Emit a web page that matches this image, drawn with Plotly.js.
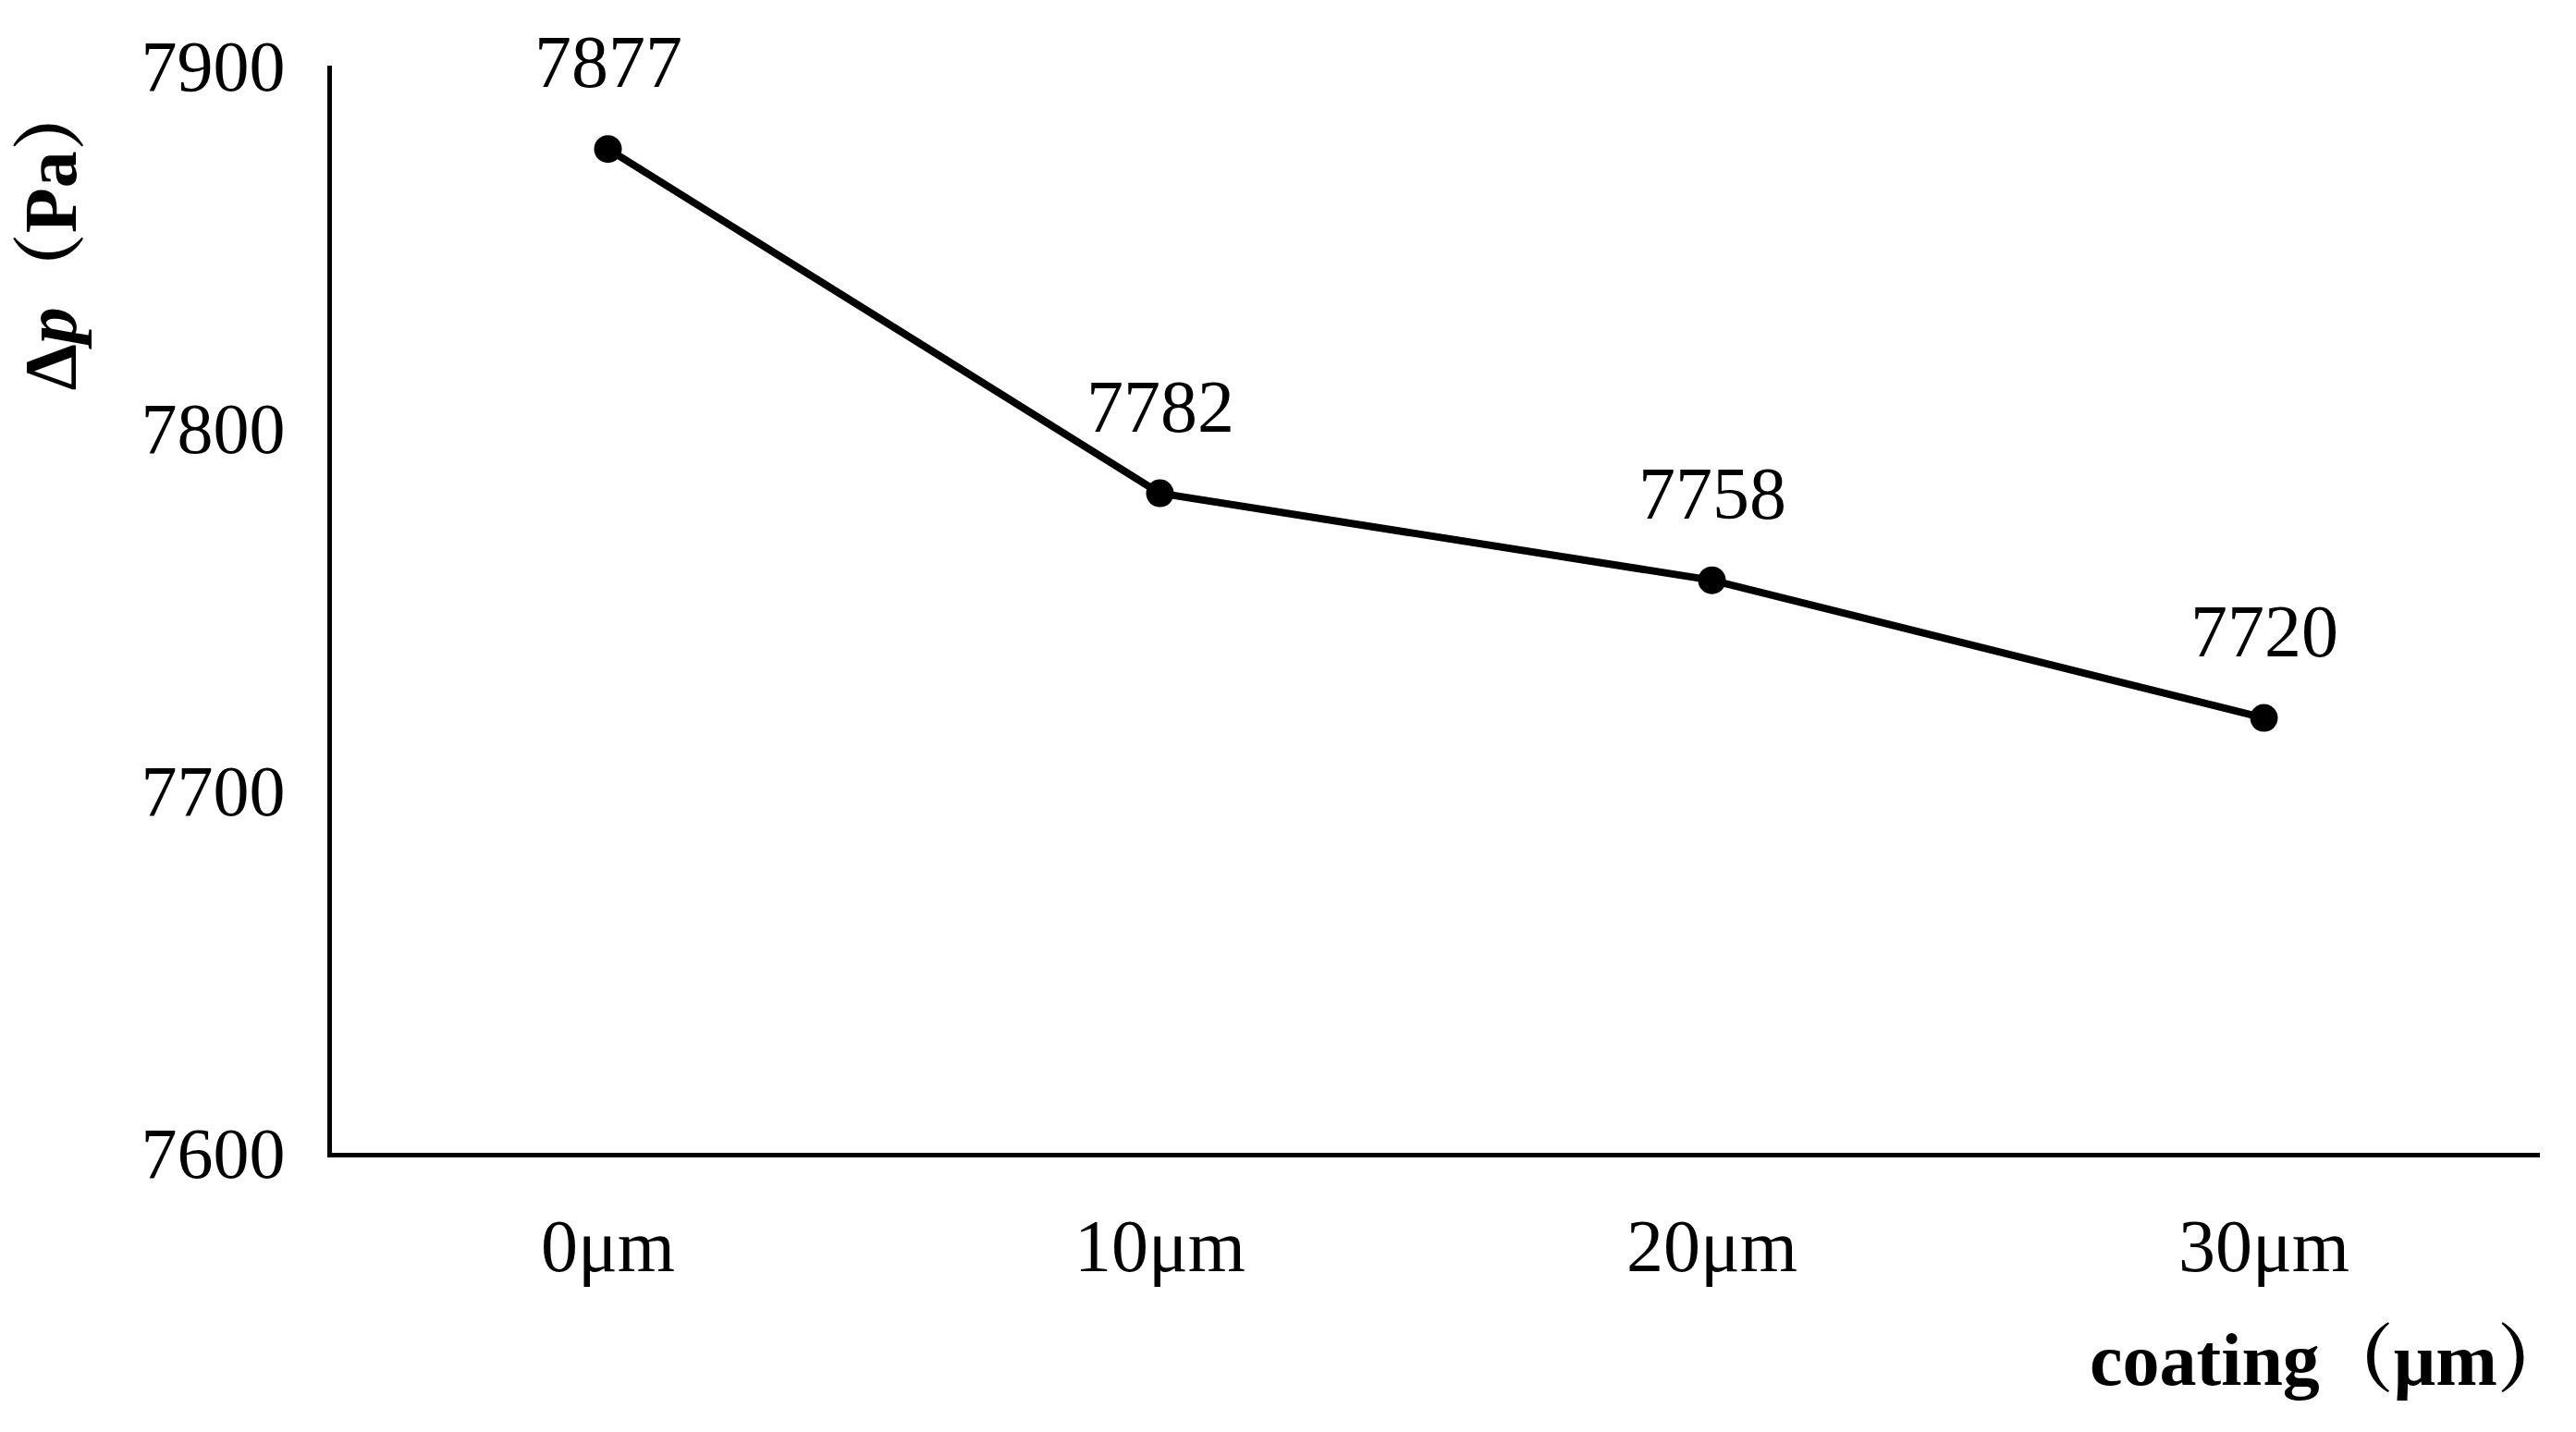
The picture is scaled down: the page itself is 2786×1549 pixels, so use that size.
<!DOCTYPE html>
<html>
<head>
<meta charset="utf-8">
<script src="https://cdn.plot.ly/plotly-3.0.1.min.js"></script>
<style>
  html, body { margin: 0; padding: 0; background: #ffffff; }
  #chart { width: 2786px; height: 1549px; }
</style>
</head>
<body>
<div id="chart"></div>
<script>
var coatings = ['0μm', '10μm', '20μm', '30μm']
var pressure_drop = [7877, 7782, 7758, 7720]
var y_ticks = [7600, 7700, 7800, 7900]

var serif = 'Liberation Serif, Noto Serif CJK SC, Noto Sans CJK SC, serif'

function draw_chart(div_name) {
    var trace = {
        type: 'scatter',
        mode: 'lines+markers',
        x: coatings,
        y: pressure_drop,
        line: { color: '#000000', width: 8 },
        marker: { color: '#000000', size: 30 },
        hoverinfo: 'skip'
    }

    // value labels above each point
    var labels = pressure_drop.map(function (v, i) {
        return {
            x: coatings[i], y: v, xref: 'x', yref: 'y',
            text: String(v), showarrow: false,
            xanchor: 'center', yanchor: 'bottom', yshift: 48,
            font: { family: serif, size: 80, color: '#000000' }
        }
    })

    labels.push({
        xref: 'paper', yref: 'paper', x: 1, y: 0,
        xanchor: 'right', yanchor: 'top', xshift: 36, yshift: -178,
        text: '<b>coating（μm）</b>', showarrow: false,
        font: { family: serif, size: 80, color: '#000000' }
    })
    labels.push({
        xref: 'paper', yref: 'paper', x: 0, y: 0.845,
        xanchor: 'center', yanchor: 'middle', xshift: -304,
        textangle: -90,
        text: '<b>Δ<i>p</i>（Pa）</b>', showarrow: false,
        font: { family: serif, size: 80, color: '#000000' }
    })

    var layout = {
        width: 2786,
        height: 1549,
        margin: { l: 359, r: 39, t: 71, b: 302 },
        paper_bgcolor: '#ffffff',
        plot_bgcolor: '#ffffff',
        showlegend: false,
        font: { family: serif, size: 80, color: '#000000' },
        xaxis: {
            type: 'category',
            range: [-0.5, 3.5],
            showgrid: false,
            zeroline: false,
            showline: true,
            linecolor: '#000000',
            linewidth: 5,
            ticks: '',
            ticklabelstandoff: 27,
            tickfont: { family: serif, size: 80, color: '#000000' }
        },
        yaxis: {
            range: [7600, 7900],
            tickvals: y_ticks,
            ticktext: y_ticks.map(String),
            showgrid: false,
            zeroline: false,
            showline: true,
            linecolor: '#000000',
            linewidth: 5,
            ticks: '',
            ticklabelstandoff: 30,
            tickfont: { family: serif, size: 78, color: '#000000' }
        },
        annotations: labels
    }

    var config = { responsive: false, displayModeBar: false, staticPlot: true }

    Plotly.newPlot(div_name, [trace], layout, config)
}

draw_chart('chart')
</script>
</body>
</html>
